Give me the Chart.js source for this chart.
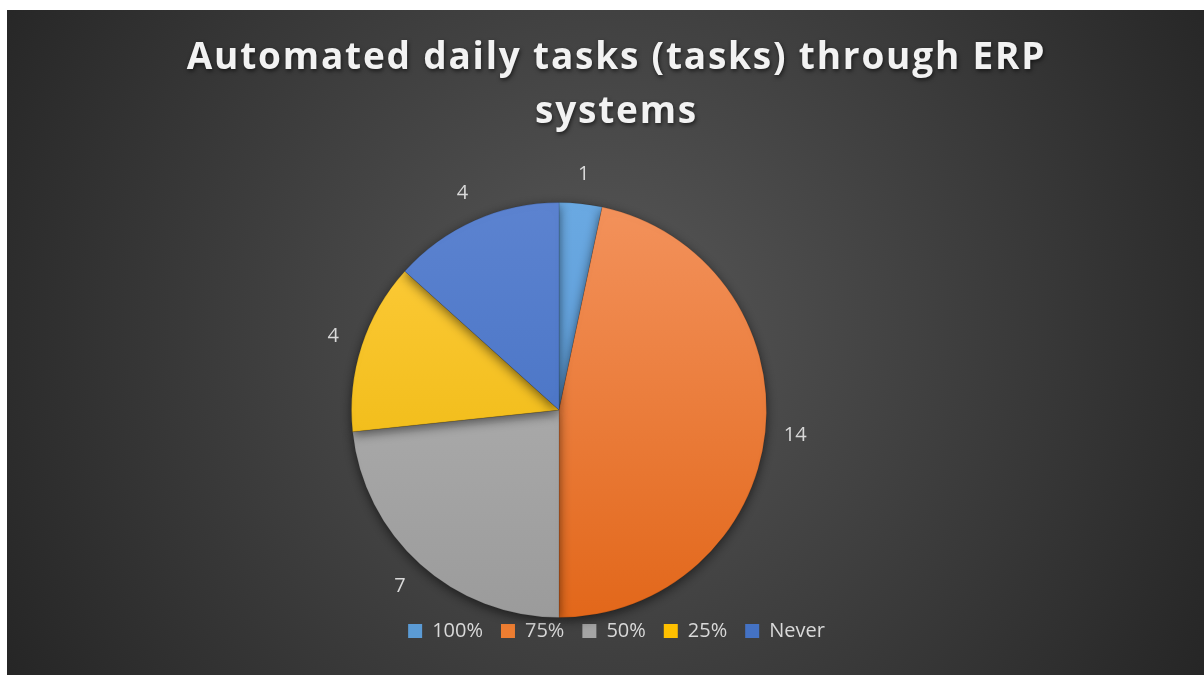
<!DOCTYPE html>
<html>
<head>
<meta charset="utf-8">
<script src="https://cdn.jsdelivr.net/npm/chart.js@4.4.0/dist/chart.umd.min.js"></script>
<style>
html, body { margin: 0; padding: 0; background: #fff; }
#wrap { position: absolute; left: 7px; top: 10px; width: 1197px; height: 665px; }
</style>
</head>
<body>
<div id="wrap"><canvas id="pieChart" width="1197" height="665"></canvas></div>
<script>
var labels = ['100%', '75%', '50%', '25%', 'Never'];
var counts = [1, 14, 7, 4, 4];

var baseColors = ['#5b9bd5', '#ed7d31', '#a5a5a5', '#ffc000', '#4472c4'];
var topColors = ['#6aa9e2', '#f3925c', '#b6b6b6', '#ffcd3f', '#5c83d0'];
var bottomColors = ['#5290cc', '#e2671a', '#9b9b9b', '#e8b200', '#3e6bbf'];

// where the pie sits inside the canvas
var pieX = 552, pieY = 400, pieR = 208;

var background = {
	id: 'background',
	beforeDraw: function(chart){
		var c = chart.ctx;
		var g = c.createRadialGradient(600, 310, 0, 600, 310, 720);
		g.addColorStop(0, '#575757');
		g.addColorStop(1, '#242424');
		c.save();
		c.fillStyle = g;
		c.fillRect(0, 0, chart.width, chart.height);
		c.restore();
	}
};

var placePie = {
	id: 'placePie',
	afterLayout: function(chart){
		var a = chart.chartArea;
		a.left = pieX - pieR;
		a.right = pieX + pieR;
		a.top = pieY - pieR;
		a.bottom = pieY + pieR;
		a.width = pieR * 2;
		a.height = pieR * 2;

		// spaced out, shadowed title like the original
		var t = chart.titleBlock;
		if(t && !t._spaced){
			var draw = t.draw;
			t.draw = function(){
				var c = this.ctx;
				c.save();
				c.letterSpacing = '1.8px';
				c.shadowColor = 'rgba(0,0,0,0.6)';
				c.shadowBlur = 4;
				c.shadowOffsetX = 1;
				c.shadowOffsetY = 2;
				draw.apply(this, arguments);
				c.restore();
			};
			t._spaced = true;
		}
	}
};

var valueLabels = {
	id: 'valueLabels',
	beforeDatasetsDraw: function(chart){
		var c = chart.ctx;
		c.save();
		c.shadowColor = 'rgba(0,0,0,0.55)';
		c.shadowBlur = 12;
		c.shadowOffsetY = 3;
	},
	afterDatasetsDraw: function(chart){
		var c = chart.ctx;
		c.restore();
		var meta = chart.getDatasetMeta(0);
		c.save();
		c.font = '20px "Open Sans"';
		c.fillStyle = '#d9d9d9';
		c.textAlign = 'center';
		c.textBaseline = 'middle';
		meta.data.forEach(function(arc, i){
			var p = arc.getProps(['x', 'y', 'startAngle', 'endAngle', 'outerRadius'], true);
			var mid = (p.startAngle + p.endAngle) / 2;
			var r = p.outerRadius + 30;
			c.fillText(String(counts[i]), p.x + Math.cos(mid) * r, p.y + Math.sin(mid) * r);
		});
		c.restore();
	}
};

var ctx = document.getElementById('pieChart');

var pieChart = new Chart(ctx, {
	type: 'pie',
	data: {
		labels: labels,
		datasets: [
			{
				data: counts,
				clip: false,
				borderWidth: 1,
				borderColor: 'rgba(0,0,0,0.12)',
				backgroundColor: function(context){
					var area = context.chart.chartArea;
					var i = context.dataIndex;
					if(!area){
						return baseColors[i];
					}
					var g = context.chart.ctx.createLinearGradient(0, area.top, 0, area.bottom);
					g.addColorStop(0, topColors[i]);
					g.addColorStop(1, bottomColors[i]);
					return g;
				}
			}
		]
	},
	options: {
		responsive: false,
		animation: false,
		layout: { padding: { left: 22, right: 0, top: 0, bottom: 24 } },
		plugins: {
			title: {
				display: true,
				text: ['Automated daily tasks (tasks) through ERP', 'systems'],
				color: '#f2f2f2',
				font: { family: '"Open Sans"', size: 37, weight: 'bold', lineHeight: 1.45 },
				padding: { top: 22, bottom: 0 }
			},
			legend: {
				position: 'bottom',
				labels: {
					color: '#d9d9d9',
					font: { family: '"Open Sans"', size: 20 },
					boxWidth: 14,
					boxHeight: 14,
					padding: 18,
					generateLabels: function(chart){
						var items = Chart.overrides.pie.plugins.legend.labels.generateLabels(chart);
						items.forEach(function(item, i){
							item.fillStyle = baseColors[i];
							item.strokeStyle = baseColors[i];
							item.lineWidth = 0;
						});
						return items;
					}
				}
			},
			tooltip: { enabled: false }
		}
	},
	plugins: [background, placePie, valueLabels]
});
</script>
</body>
</html>
